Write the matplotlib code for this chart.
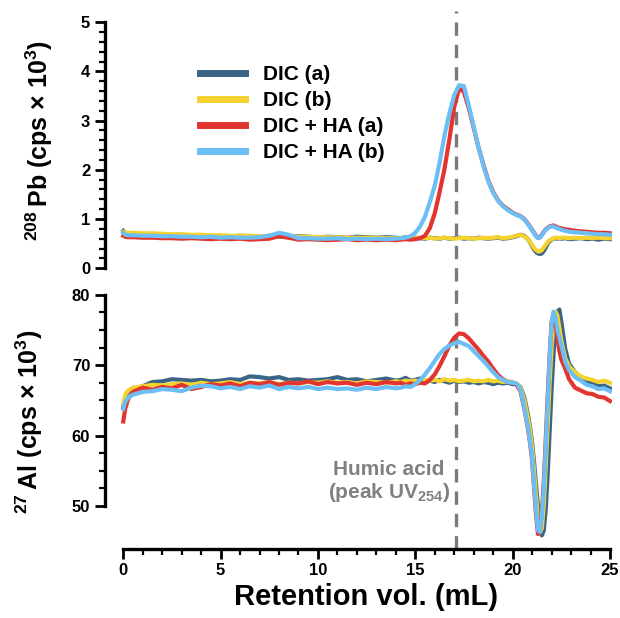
import matplotlib
matplotlib.use("Agg")
import matplotlib.pyplot as plt
import matplotlib.transforms as mtransforms
from matplotlib.lines import Line2D
from matplotlib.ticker import FixedLocator

plt.rcParams["font.family"] = ["Liberation Sans", "DejaVu Sans"]
plt.rcParams["font.weight"] = "bold"
plt.rcParams["mathtext.fontset"] = "custom"
plt.rcParams["mathtext.rm"] = "Liberation Sans:bold"
plt.rcParams["mathtext.bf"] = "Liberation Sans:bold"
plt.rcParams["mathtext.default"] = "rm"

# ---- retention volume grid (mL) ----
vol = [0, 0.1, 0.25,
       0.5, 1.0, 1.5, 2.0, 2.5, 3.0, 3.5, 4.0, 4.5, 5.0, 5.5, 6.0, 6.5, 7.0,
       7.5, 8.0, 8.5, 9.0, 9.5, 10.0, 10.5, 11.0, 11.5, 12.0, 12.5, 13.0, 13.5, 14.0,
       14.25, 14.5, 14.75, 15.0, 15.25, 15.5, 15.75, 16.0, 16.25, 16.5, 16.75, 17.0,
       17.25, 17.5, 17.75, 18.0, 18.25, 18.5, 18.75, 19.0, 19.25, 19.5, 19.75, 20.0,
       20.2, 20.4, 20.6, 20.8, 20.9, 21.0, 21.1, 21.2, 21.3, 21.4, 21.5, 21.6, 21.7,
       21.8, 21.9, 22.0, 22.1, 22.2, 22.3, 22.4, 22.5, 22.7, 22.9, 23.2, 23.5, 23.8,
       24.1, 24.4, 24.7, 25.0]

labels = ["DIC (a)", "DIC (b)", "DIC + HA (a)", "DIC + HA (b)"]
colors = ["#3b6586", "#f5d22e", "#e23530", "#6cbff5"]

# ---- 208Pb (cps x 10^3) ----
pb_dic_a = [0.76, 0.72, 0.70,
            0.70, 0.69, 0.68, 0.69, 0.67, 0.68, 0.66, 0.67, 0.65, 0.66, 0.64, 0.66, 0.65, 0.63,
            0.66, 0.64, 0.63, 0.65, 0.64, 0.62, 0.64, 0.63, 0.62, 0.64, 0.63, 0.62, 0.63, 0.62,
            0.61, 0.63, 0.60, 0.62, 0.61, 0.60, 0.62, 0.61, 0.60, 0.62, 0.60, 0.61,
            0.62, 0.60, 0.61, 0.60, 0.62, 0.61, 0.60, 0.61, 0.62, 0.60, 0.61, 0.63,
            0.65, 0.68, 0.66, 0.58, 0.52, 0.45, 0.38, 0.33, 0.30, 0.29, 0.30, 0.35, 0.42,
            0.50, 0.55, 0.58, 0.60, 0.61, 0.60, 0.61, 0.60, 0.61, 0.59, 0.60, 0.61, 0.59,
            0.60, 0.58, 0.60, 0.59]
pb_dic_b = [0.74, 0.73, 0.72,
            0.72, 0.71, 0.71, 0.70, 0.69, 0.69, 0.68, 0.68, 0.67, 0.67, 0.66, 0.66, 0.66, 0.65,
            0.65, 0.65, 0.64, 0.64, 0.64, 0.63, 0.63, 0.63, 0.62, 0.62, 0.62, 0.62, 0.61, 0.61,
            0.61, 0.62, 0.61, 0.61, 0.62, 0.61, 0.62, 0.60, 0.61, 0.62, 0.61, 0.60,
            0.61, 0.62, 0.61, 0.60, 0.61, 0.62, 0.61, 0.62, 0.63, 0.61, 0.62, 0.64,
            0.66, 0.68, 0.65, 0.58, 0.53, 0.47, 0.41, 0.37, 0.34, 0.34, 0.37, 0.42, 0.48,
            0.53, 0.57, 0.59, 0.61, 0.62, 0.62, 0.61, 0.62, 0.62, 0.61, 0.62, 0.61, 0.62,
            0.61, 0.62, 0.61, 0.61]
pb_ha_a = [0.66, 0.64, 0.63,
           0.63, 0.62, 0.62, 0.61, 0.61, 0.60, 0.61, 0.60, 0.59, 0.60, 0.59, 0.60, 0.58, 0.59,
           0.60, 0.65, 0.62, 0.58, 0.59, 0.58, 0.57, 0.58, 0.59, 0.57, 0.58, 0.57, 0.58, 0.57,
           0.58, 0.59, 0.58, 0.59, 0.61, 0.66, 0.82, 1.12, 1.55, 2.02, 2.62, 3.28,
           3.66, 3.58, 3.25, 2.85, 2.45, 2.10, 1.78, 1.55, 1.38, 1.27, 1.20, 1.13,
           1.09, 1.06, 1.00, 0.90, 0.84, 0.78, 0.72, 0.66, 0.62, 0.63, 0.68, 0.74, 0.79,
           0.82, 0.85, 0.86, 0.87, 0.85, 0.83, 0.82, 0.81, 0.79, 0.78, 0.76, 0.75, 0.74,
           0.73, 0.72, 0.72, 0.71]
pb_ha_b = [0.72, 0.68, 0.67,
           0.67, 0.66, 0.66, 0.65, 0.65, 0.64, 0.64, 0.63, 0.64, 0.62, 0.63, 0.62, 0.62, 0.63,
           0.66, 0.72, 0.68, 0.61, 0.61, 0.60, 0.60, 0.61, 0.59, 0.60, 0.59, 0.60, 0.59, 0.60,
           0.61, 0.62, 0.65, 0.72, 0.85, 1.05, 1.35, 1.68, 2.15, 2.70, 3.15, 3.52,
           3.72, 3.70, 3.30, 2.88, 2.45, 2.08, 1.76, 1.53, 1.37, 1.26, 1.18, 1.12,
           1.08, 1.05, 0.99, 0.89, 0.83, 0.77, 0.71, 0.65, 0.61, 0.62, 0.67, 0.73, 0.78,
           0.81, 0.84, 0.85, 0.85, 0.83, 0.81, 0.80, 0.78, 0.76, 0.74, 0.73, 0.72, 0.71,
           0.70, 0.69, 0.69, 0.68]

# ---- 27Al (cps x 10^3) ----
al_dic_a = [64.0, 65.5, 66.3,
            66.6, 67.0, 67.6, 67.7, 68.0, 67.9, 67.8, 67.9, 67.7, 67.8, 68.0, 67.9, 68.4, 68.3,
            68.1, 68.3, 67.9, 68.0, 67.8, 67.9, 68.0, 68.3, 67.9, 68.0, 67.7, 67.9, 68.1, 67.8,
            67.9, 68.2, 67.8, 67.9, 68.1, 67.7, 67.8, 67.6, 67.9, 67.7, 67.5, 67.8,
            67.6, 67.7, 67.5, 67.6, 67.4, 67.6, 67.5, 67.3, 67.5, 67.4, 67.5, 67.3,
            67.3, 66.9, 65.4, 62.8, 61.0, 59.0, 56.2, 53.0, 50.0, 47.5, 45.8, 46.5, 49.5,
            54.5, 60.5, 66.5, 71.5, 75.5, 77.6, 77.9, 76.2, 72.3, 70.2, 69.0, 68.2, 67.6,
            67.5, 67.0, 67.1, 66.7]
al_dic_b = [64.5, 65.8, 66.4,
            66.8, 67.0, 67.2, 67.1, 67.3, 67.4, 67.2, 67.5, 67.3, 67.4, 67.6, 67.3, 67.5, 67.4,
            67.6, 67.3, 67.5, 67.4, 67.6, 67.5, 67.7, 67.5, 67.6, 67.4, 67.7, 67.6, 67.5, 67.7,
            67.6, 67.8, 67.7, 67.8, 67.6, 67.9, 67.8, 67.9, 67.7, 68.0, 67.8, 67.9,
            67.7, 67.8, 67.9, 67.7, 67.8, 67.7, 67.9, 67.7, 67.8, 67.6, 67.7, 67.6,
            67.4, 66.8, 65.0, 62.3, 60.5, 58.3, 55.0, 51.5, 48.2, 46.2, 46.8, 50.0, 55.5,
            61.5, 67.5, 72.5, 76.0, 77.6, 77.0, 75.3, 73.5, 71.0, 69.8, 69.0, 68.4, 68.1,
            67.9, 67.6, 67.8, 67.5]
al_ha_a = [62.0, 63.8, 65.2,
           66.2, 66.8, 66.5, 66.9, 66.7, 67.2, 66.6, 66.9, 67.3, 67.1, 67.4, 67.0, 67.5, 67.3,
           67.6, 67.2, 67.5, 67.4, 67.7, 67.3, 67.6, 67.4, 67.5, 67.2, 67.5, 67.3, 67.6, 67.4,
           67.5, 67.2, 67.4, 67.3, 67.5, 67.4, 67.9, 68.7, 69.9, 71.3, 72.8, 73.9,
           74.5, 74.4, 73.8, 73.0, 72.2, 71.3, 70.5, 69.5, 68.6, 68.0, 67.6, 67.5,
           67.2, 66.3, 63.8, 60.8, 58.8, 56.5, 52.5, 48.8, 46.0, 46.3, 49.0, 53.5, 59.5,
           65.5, 71.5, 76.0, 77.4, 76.0, 73.8, 72.0, 70.8, 69.5, 68.0, 66.8, 66.4, 66.0,
           65.9, 65.5, 65.4, 64.9]
al_ha_b = [63.8, 64.8, 65.4,
           65.8, 66.2, 66.3, 66.6, 66.5, 66.3, 66.8, 67.1, 67.0, 66.7, 66.9, 66.6, 67.0, 66.8,
           67.1, 66.6, 66.9, 66.7, 66.9, 66.6, 66.8, 66.6, 66.7, 66.5, 66.8, 66.6, 66.9, 66.7,
           66.8, 67.0, 66.9, 67.3, 67.9, 68.7, 69.6, 70.6, 71.6, 72.3, 72.8, 73.1,
           73.3, 73.0, 72.7, 72.0, 71.3, 70.6, 69.8, 69.0, 68.3, 67.9, 67.6, 67.5,
           67.4, 66.5, 64.0, 61.0, 59.0, 57.0, 53.0, 49.5, 46.5, 46.3, 48.5, 52.5, 58.5,
           64.5, 71.0, 76.0, 77.6, 76.8, 75.0, 74.0, 72.8, 70.5, 69.3, 68.3, 67.8, 67.2,
           67.0, 66.6, 66.7, 66.3]

pb_series = [pb_dic_a, pb_dic_b, pb_ha_a, pb_ha_b]
al_series = [al_dic_a, al_dic_b, al_ha_a, al_ha_b]

pb_ticks = [0, 1, 2, 3, 4, 5]
al_ticks = [50, 60, 70, 80]
vol_ticks = [0, 5, 10, 15, 20, 25]

HA_PEAK = 17.1  # UV254 humic acid peak

fig = plt.figure(figsize=(6.2, 6.18), dpi=100)
ax1 = fig.add_axes([0.169, 0.566, 0.818, 0.414])
ax2 = fig.add_axes([0.169, 0.112, 0.818, 0.411])

for i, (pb, al) in enumerate(zip(pb_series, al_series)):
    ax1.plot(vol, pb, color=colors[i], lw=3, zorder=2 + i)
    ax2.plot(vol, al, color=colors[i], lw=3, zorder=2 + i)

for ax in (ax1, ax2):
    ax.set_facecolor("none")
    ax.set_zorder(2)
    ax.set_xlim(-0.95, 25.1)
    ax.spines["top"].set_visible(False)
    ax.spines["right"].set_visible(False)
    ax.spines["left"].set_linewidth(2.4)
    ax.spines["bottom"].set_linewidth(2.4)
    ax.tick_params(which="major", length=7, width=2, labelsize=12)
    ax.tick_params(which="minor", length=4, width=1.6)

# top panel
ax1.set_ylim(0, 5.2)
ax1.spines["left"].set_bounds(0, 5)
ax1.spines["bottom"].set_visible(False)
ax1.set_yticks(pb_ticks)
ax1.yaxis.set_minor_locator(FixedLocator([v / 5 for v in range(26) if v % 5]))
ax1.tick_params(axis="x", which="both", bottom=False, labelbottom=False)
ax1.set_ylabel(r"$^{208}\,$Pb (cps × 10$^{3}$)", fontsize=18, fontweight="bold", labelpad=19)

# bottom panel
ax2.set_ylim(43.9, 80)
ax2.spines["left"].set_bounds(50, 80)
ax2.spines["bottom"].set_bounds(0, 25)
ax2.set_yticks(al_ticks)
ax2.yaxis.set_minor_locator(FixedLocator([50 + 2.5 * k for k in range(13) if k % 4]))
ax2.set_xticks(vol_ticks)
ax2.xaxis.set_minor_locator(FixedLocator([k for k in range(26) if k % 5]))
ax2.set_ylabel(r"$^{27}\,$Al (cps × 10$^{3}$)", fontsize=18, fontweight="bold", labelpad=19)
ax2.set_xlabel("Retention vol. (mL)", fontsize=21, fontweight="bold")
ax2.xaxis.set_label_coords(0.516, -0.135)

for ax in (ax1, ax2):
    for t in ax.get_yticklabels() + ax.get_xticklabels():
        t.set_fontweight("bold")

# humic acid marker: x in data units, y from the x-axis up to the top of the figure
trans = mtransforms.blended_transform_factory(ax2.transData, fig.transFigure)
marker = Line2D([HA_PEAK, HA_PEAK], [0.112, 0.982], transform=trans,
                color="#7a7a7a", lw=2.4, linestyle=(0, (4, 2.7)), zorder=1)
fig.add_artist(marker)
ax2.text(13.65, 53.4, "Humic acid\n(peak UV$_{254}$)", color="#808080",
         fontsize=15, fontweight="bold", ha="center", va="center",
         multialignment="center", linespacing=1.15)

handles = [Line2D([], [], color=c, lw=5) for c in colors]
ax1.legend(handles, labels, loc="upper left", bbox_to_anchor=(0.187, 0.795),
           frameon=False, prop={"weight": "bold", "size": 15},
           handlelength=2.16, handletextpad=0.87, labelspacing=0.34,
           borderaxespad=0, borderpad=0)

fig.savefig("out.png", dpi=100)
